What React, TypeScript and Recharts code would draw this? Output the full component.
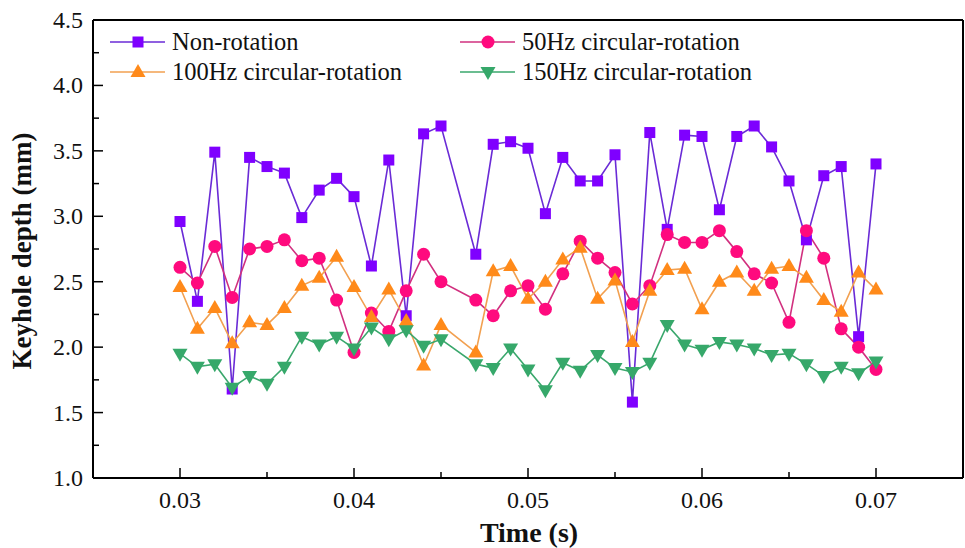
import React from "react";
import {
  LineChart,
  Line,
  XAxis,
  YAxis,
  ReferenceLine,
} from "recharts";

// time stamps (s); the 0.046 s frame is missing in the source figure
const times = [
  0.03, 0.031, 0.032, 0.033, 0.034, 0.035, 0.036, 0.037, 0.038, 0.039,
  0.04, 0.041, 0.042, 0.043, 0.044, 0.045, 0.047, 0.048, 0.049,
  0.05, 0.051, 0.052, 0.053, 0.054, 0.055, 0.056, 0.057, 0.058, 0.059,
  0.06, 0.061, 0.062, 0.063, 0.064, 0.065, 0.066, 0.067, 0.068, 0.069, 0.07,
];

const nonRotation = [
  2.96, 2.35, 3.49, 1.68, 3.45, 3.38, 3.33, 2.99, 3.2, 3.29,
  3.15, 2.62, 3.43, 2.24, 3.63, 3.69, 2.71, 3.55, 3.57,
  3.52, 3.02, 3.45, 3.27, 3.27, 3.47, 1.58, 3.64, 2.9, 3.62,
  3.61, 3.05, 3.61, 3.69, 3.53, 3.27, 2.82, 3.31, 3.38, 2.08, 3.4,
];

const hz50 = [
  2.61, 2.49, 2.77, 2.38, 2.75, 2.77, 2.82, 2.66, 2.68, 2.36,
  1.96, 2.26, 2.12, 2.43, 2.71, 2.5, 2.36, 2.24, 2.43,
  2.47, 2.29, 2.56, 2.81, 2.68, 2.57, 2.33, 2.47, 2.86, 2.8,
  2.8, 2.89, 2.73, 2.56, 2.49, 2.19, 2.89, 2.68, 2.14, 2.0, 1.83,
];

const hz100 = [
  2.46, 2.14, 2.3, 2.03, 2.19, 2.17, 2.3, 2.47, 2.53, 2.69,
  2.46, 2.23, 2.44, 2.2, 1.86, 2.17, 1.96, 2.58, 2.62,
  2.37, 2.5, 2.67, 2.76, 2.37, 2.51, 2.04, 2.43, 2.59, 2.6,
  2.29, 2.5, 2.57, 2.43, 2.6, 2.62, 2.53, 2.36, 2.27, 2.57, 2.44,
];

const hz150 = [
  1.95, 1.85, 1.87, 1.69, 1.78, 1.72, 1.85, 2.08, 2.02, 2.08,
  1.99, 2.15, 2.06, 2.13, 2.01, 2.06, 1.87, 1.84, 1.99,
  1.83, 1.67, 1.88, 1.82, 1.94, 1.84, 1.81, 1.88, 2.17, 2.02,
  1.98, 2.04, 2.02, 1.99, 1.94, 1.95, 1.87, 1.78, 1.85, 1.8, 1.89,
];

const xTicks = [0.03, 0.035, 0.04, 0.045, 0.05, 0.055, 0.06, 0.065, 0.07];
const yTicks = [1, 1.25, 1.5, 1.75, 2, 2.25, 2.5, 2.75, 3, 3.25, 3.5, 3.75, 4, 4.25, 4.5];

const data = times.map((t, i) => ({
  t,
  non: nonRotation[i],
  h50: hz50[i],
  h100: hz100[i],
  h150: hz150[i],
}));

type Shape = "square" | "circle" | "up" | "down";

const series: { key: string; name: string; line: string; fill: string; shape: Shape }[] = [
  { key: "non", name: "Non-rotation", line: "#6a2bd6", fill: "#7f00ff", shape: "square" },
  { key: "h50", name: "50Hz circular-rotation", line: "#d1307f", fill: "#ff0a7e", shape: "circle" },
  { key: "h100", name: "100Hz circular-rotation", line: "#f2a050", fill: "#ff8a1a", shape: "up" },
  { key: "h150", name: "150Hz circular-rotation", line: "#3aa76c", fill: "#36a86a", shape: "down" },
];

const FONT = "Liberation Serif, DejaVu Serif, serif";
const txt = { fontFamily: FONT };

function Marker({ cx, cy, shape, fill }: { cx: number; cy: number; shape: Shape; fill: string }) {
  if (cx == null || cy == null) return null;
  if (shape === "square") return <rect x={cx - 5.5} y={cy - 5.5} width={11} height={11} fill={fill} />;
  if (shape === "circle") return <circle cx={cx} cy={cy} r={6.5} fill={fill} />;
  if (shape === "up")
    return <polygon points={`${cx},${cy - 8} ${cx - 7.5},${cy + 5} ${cx + 7.5},${cy + 5}`} fill={fill} />;
  return <polygon points={`${cx},${cy + 8} ${cx - 7.5},${cy - 5} ${cx + 7.5},${cy - 5}`} fill={fill} />;
}

const XTick = (props: any) => {
  const { x, y, payload } = props;
  const v = payload.value;
  const major = Math.abs(v * 100 - Math.round(v * 100)) < 1e-6;
  return (
    <g>
      <line x1={x} x2={x} y1={y} y2={y - (major ? 10 : 6)} stroke="#000" strokeWidth={1.5} />
      {major && (
        <text x={x} y={y + 30} textAnchor="middle" fontSize={24} style={txt} fill="#111">
          {v.toFixed(2)}
        </text>
      )}
    </g>
  );
};

const YTick = (props: any) => {
  const { x, y, payload } = props;
  const v = payload.value;
  const major = Math.abs(v * 2 - Math.round(v * 2)) < 1e-6;
  return (
    <g>
      <line x1={x} x2={x + (major ? 10 : 6)} y1={y} y2={y} stroke="#000" strokeWidth={1.5} />
      {major && (
        <text x={x - 10} y={y + 8} textAnchor="end" fontSize={24} style={txt} fill="#111">
          {v.toFixed(1)}
        </text>
      )}
    </g>
  );
};

function LegendBox() {
  const pos = [
    { left: 110, top: 42 },
    { left: 460, top: 42 },
    { left: 110, top: 72 },
    { left: 460, top: 72 },
  ];
  return (
    <svg style={{ position: "absolute", left: 0, top: 0, pointerEvents: "none" }} width={965} height={100}>
      {series.map((s, i) => {
        const p = pos[i];
        return (
          <g key={s.key}>
            <line x1={p.left} x2={p.left + 55} y1={p.top} y2={p.top} stroke={s.line} strokeWidth={1.5} />
            <Marker cx={p.left + 28} cy={p.top} shape={s.shape} fill={s.fill} />
            <text x={p.left + 62} y={p.top + 8} fontSize={24.5} style={txt} fill="#111">
              {s.name}
            </text>
          </g>
        );
      })}
    </svg>
  );
}

export default function App() {
  return (
    <div style={{ position: "absolute", left: 0, top: 0, width: 965, height: 548, background: "#fff", fontFamily: FONT }}>
      <LineChart
        width={965}
        height={548}
        data={data}
        margin={{ top: 20, right: 2, bottom: 0, left: 0 }}
      >
        <XAxis
          dataKey="t"
          type="number"
          domain={[0.025, 0.075]}
          ticks={xTicks}
          allowDataOverflow
          height={70}
          tickSize={0}
          tickMargin={0}
          tickLine={false}
          tick={<XTick />}
          axisLine={{ stroke: "#000", strokeWidth: 2 }}
          interval={0}
          label={{
            content: () => (
              <text x={529} y={542} textAnchor="middle" fontSize={28} fontWeight="bold" style={txt} fill="#111">
                Time (s)
              </text>
            ),
          }}
        />
        <YAxis
          type="number"
          domain={[1, 4.5]}
          ticks={yTicks}
          width={93}
          tickSize={0}
          tickMargin={0}
          tickLine={false}
          tick={<YTick />}
          axisLine={{ stroke: "#000", strokeWidth: 2 }}
          interval={0}
          label={{
            content: () => (
              <text
                x={22}
                y={251}
                textAnchor="middle"
                dominantBaseline="central"
                fontSize={27}
                fontWeight="bold"
                style={txt}
                fill="#111"
                transform="rotate(-90 22 251)"
              >
                Keyhole depth (mm)
              </text>
            ),
          }}
        />
        <ReferenceLine y={4.5} stroke="#000" strokeWidth={2} />
        <ReferenceLine x={0.075} stroke="#000" strokeWidth={2} />
        {series.map((s) => (
          <Line
            key={s.key}
            dataKey={s.key}
            name={s.name}
            type="linear"
            stroke={s.line}
            strokeWidth={1.6}
            isAnimationActive={false}
            dot={(p: any) => <Marker key={`${s.key}-${p.index}`} cx={p.cx} cy={p.cy} shape={s.shape} fill={s.fill} />}
            activeDot={false}
          />
        ))}
      </LineChart>
      <LegendBox />
    </div>
  );
}
